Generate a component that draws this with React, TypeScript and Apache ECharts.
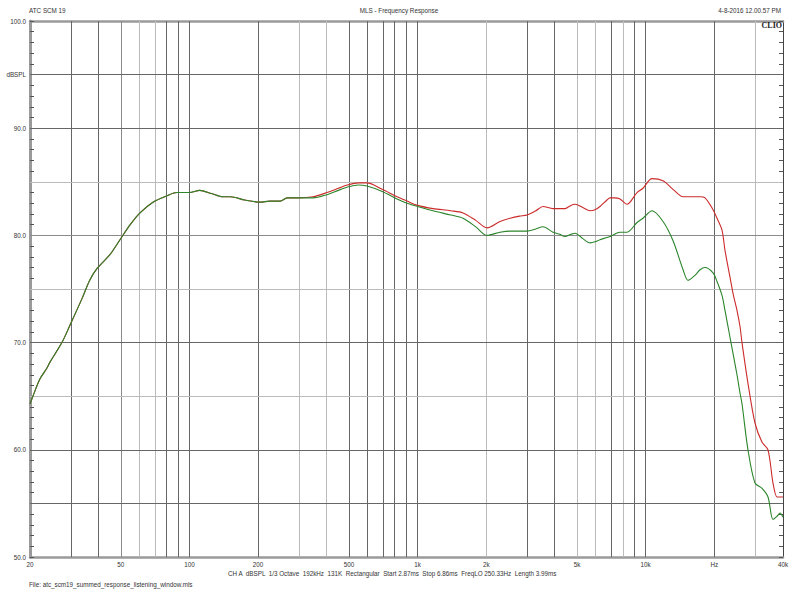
import React, { useEffect, useRef } from "react";
import * as echarts from "echarts";

// ---- data ----
const freqs = [
  20, 20.6, 22.1, 23.7, 24.5, 27.6, 29.9, 33.8, 36.5, 39.3, 44.8, 49.6, 55, 60.7, 69.2, 79.7, 88.2, 100, 111, 125, 140,
  151, 175, 204, 225, 250, 268, 300, 348, 401, 450, 491, 550, 600, 700, 813, 900, 1000, 1169, 1400, 1582, 1800, 2016,
  2300, 2544, 2800, 3019, 3300, 3549, 3926, 4200, 4431, 4700, 4901, 5300, 5704, 6000, 6305, 6767, 6976, 7300, 7720,
  8285, 9166, 9735, 10665, 11918, 13184, 14587, 15341, 16500, 17318, 18213, 19738, 20551, 21614, 22273, 23427, 24149,
  25140, 25916, 26443, 28090, 30150, 32370, 34380, 36160, 37650, 38830, 40000,
];
const redDb = [
  64.3, 65.0, 66.6, 67.6, 68.2, 70.0, 71.6, 74.1, 75.8, 76.9, 78.2, 79.6, 81.0, 82.1, 83.1, 83.7, 84.0, 84.0, 84.2, 83.9,
  83.6, 83.6, 83.3, 83.1, 83.2, 83.2, 83.5, 83.5, 83.6, 84.0, 84.4, 84.7, 84.9, 84.9, 84.3, 83.6, 83.2, 82.8, 82.5, 82.3,
  82.1, 81.4, 80.7, 81.3, 81.6, 81.8, 81.9, 82.3, 82.7, 82.5, 82.5, 82.5, 82.8, 82.9, 82.6, 82.3, 82.4, 82.7, 83.3, 83.5,
  83.5, 83.4, 82.9, 84.0, 84.4, 85.3, 85.1, 84.3, 83.6, 83.6, 83.6, 83.6, 83.5, 82.4, 81.6, 80.5, 78.6, 76.1, 74.6, 73.0,
  71.5, 70.0, 66.2, 62.5, 60.7, 60.0, 56.9, 55.6, 55.6, 55.6,
];
const greenDb = [
  64.3, 65.0, 66.6, 67.6, 68.2, 70.0, 71.6, 74.1, 75.8, 76.9, 78.2, 79.6, 81.0, 82.1, 83.1, 83.7, 84.0, 84.0, 84.2, 83.9,
  83.6, 83.6, 83.3, 83.1, 83.2, 83.2, 83.5, 83.5, 83.5, 83.8, 84.2, 84.5, 84.7, 84.6, 84.1, 83.4, 83.0, 82.7, 82.3, 81.9,
  81.6, 80.8, 80.0, 80.3, 80.4, 80.4, 80.4, 80.6, 80.8, 80.3, 80.1, 79.9, 80.1, 80.2, 79.7, 79.3, 79.4, 79.6, 79.8, 79.9,
  80.1, 80.3, 80.3, 81.2, 81.6, 82.3, 81.3, 79.5, 76.8, 75.8, 76.3, 76.8, 77.0, 76.5, 75.7, 74.4, 73.0, 70.5, 69.0, 67.0,
  65.3, 64.3, 60.0, 56.9, 56.4, 55.6, 53.5, 53.8, 54.1, 53.7,
];
const xTickFreqs = [20, 50, 100, 200, 500, 1000, 2000, 5000, 10000, 20000, 40000];
const xTickLabels = ["20", "50", "100", "200", "500", "1k", "2k", "5k", "10k", "Hz", "40k"];
const gridFreqs = [30, 40, 50, 60, 70, 80, 90, 100, 200, 300, 400, 500, 600, 700, 800, 900, 1000, 2000, 3000, 4000, 5000, 6000, 7000, 8000, 9000, 10000, 20000, 30000];
const gridLevels = [55, 60, 65, 70, 75, 80, 85, 90, 95];
const xMin = 20;
const xMax = 40000;
const yMin = 50;
const yMax = 100;

// ---- styles ----
const gridFreqShade = ["d", "d", "m", "l", "l", "d", "d", "d", "d", "l", "l", "d", "d", "d", "d", "d", "d", "l", "d", "d", "l", "l", "d", "l", "d", "d", "d", "l"];
const gridLevelShade = ["d", "d", "l", "d", "l", "m", "l", "d", "d"];
const shadeColor: Record<string, string> = { d: "#666666", m: "#8a8a8a", l: "#bbbbbb" };

const FONT = "Liberation Sans, Arial, sans-serif";
const lg = (f: number) => Math.log10(f);

export default function App() {
  const ref = useRef<HTMLDivElement>(null);
  useEffect(() => {
    if (!ref.current) return;
    const chart = echarts.init(ref.current, null, { renderer: "svg" });
    const txt = { fontFamily: FONT, fontSize: 6.3, color: "#333" };
    const labelFor = (v: number) => {
      let best = 0;
      let bd = Infinity;
      xTickFreqs.forEach((f, i) => {
        const d = Math.abs(lg(f) - v);
        if (d < bd) {
          bd = d;
          best = i;
        }
      });
      return xTickLabels[best];
    };
    const option: any = {
      animation: false,
      backgroundColor: "#fff",
      grid: { left: 30, right: 15, top: 21, bottom: 42, containLabel: false },
      title: [
        { text: "ATC SCM 19", left: 29, top: 7, padding: 0, textStyle: { ...txt, fontWeight: "normal" } },
        { text: "MLS - Frequency Response", left: "center", top: 7, padding: 0, textStyle: { ...txt, fontWeight: "normal" } },
        { text: "4-8-2016 12.00.57 PM", right: 17, top: 7, padding: 0, textStyle: { ...txt, fontWeight: "normal" } },
      ],
      xAxis: [
        {
          type: "value",
          position: "bottom",
          min: lg(xMin),
          max: lg(xMax),
          axisLine: { show: true, onZero: false, lineStyle: { color: "#9a9a9a", width: 2.5 } },
          axisTick: { show: false },
          splitLine: { show: false },
          axisLabel: {
            ...txt,
            margin: 4,
            customValues: xTickFreqs.map(lg),
            formatter: (v: number) => labelFor(v),
            hideOverlap: false,
            showMinLabel: true,
            showMaxLabel: true,
          },
        },
        {
          type: "value",
          position: "top",
          min: lg(xMin),
          max: lg(xMax),
          axisLine: { show: true, onZero: false, lineStyle: { color: "#9a9a9a", width: 2.5 } },
          axisTick: { show: false },
          splitLine: { show: false },
          axisLabel: { show: false },
        },
      ],
      yAxis: [
        {
          type: "value",
          position: "left",
          min: yMin,
          max: yMax,
          interval: 5,
          axisLine: { show: true, onZero: false, lineStyle: { color: "#9a9a9a", width: 3 } },
          axisTick: { show: true, inside: true, length: 4, lineStyle: { color: "#555" } },
          minorTick: { show: true, splitNumber: 5, length: 4, lineStyle: { color: "#555" } },
          splitLine: { show: false },
          axisLabel: {
            ...txt,
            margin: 4,
            formatter: (v: number) => (v === 95 ? "dBSPL" : v % 10 === 0 ? v.toFixed(1) : ""),
          },
        },
        {
          type: "value",
          position: "right",
          min: yMin,
          max: yMax,
          interval: 5,
          axisLine: { show: true, onZero: false, lineStyle: { color: "#444", width: 1 } },
          axisTick: { show: true, inside: true, length: 4, lineStyle: { color: "#555" } },
          minorTick: { show: true, splitNumber: 5, length: 4, lineStyle: { color: "#555" } },
          splitLine: { show: false },
          axisLabel: { show: false },
        },
      ],
      series: [
        {
          type: "line",
          name: "grid",
          data: [[lg(xMin), yMin]],
          showSymbol: false,
          symbolSize: 0,
          lineStyle: { opacity: 0 },
          silent: true,
          z: 1,
          markLine: {
            silent: true,
            symbol: ["none", "none"],
            label: { show: false },
            z: 1,
            data: [
              ...gridFreqs.map((f, i) => ({
                xAxis: lg(f),
                lineStyle: { color: shadeColor[gridFreqShade[i]], width: 1, type: "solid" },
              })),
              ...gridLevels.map((v, i) => ({
                yAxis: v,
                lineStyle: { color: shadeColor[gridLevelShade[i]], width: 1, type: "solid" },
              })),
            ],
          },
        },
        {
          type: "line",
          name: "red",
          data: freqs.map((f, i) => [lg(f), redDb[i]]),
          showSymbol: false,
          smooth: 0.3,
          lineStyle: { color: "#cc2b2b", width: 1.1 },
          z: 3,
        },
        {
          type: "line",
          name: "green",
          data: freqs.map((f, i) => [lg(f), greenDb[i]]),
          showSymbol: false,
          smooth: 0.3,
          lineStyle: { color: "#2b852b", width: 1.1 },
          z: 4,
        },
      ],
      graphic: [
        {
          type: "text",
          right: 16,
          top: 21,
          style: { text: "CLIO", font: "bold 8px 'Liberation Serif', serif", fill: "#222" },
          z: 10,
        },
        {
          type: "text",
          left: 228,
          top: 570,
          style: {
            text: "CH A  dBSPL  1/3 Octave  192kHz  131K  Rectangular  Start 2.87ms  Stop 6.86ms  FreqLO 250.33Hz  Length 3.99ms",
            font: "6.3px 'Liberation Sans', Arial, sans-serif",
            fill: "#333",
          },
        },
        {
          type: "text",
          left: 29,
          top: 581,
          style: {
            text: "File: atc_scm19_summed_response_listening_window.mls",
            font: "6.3px 'Liberation Sans', Arial, sans-serif",
            fill: "#333",
          },
        },
      ],
    };
    chart.setOption(option);
    return () => chart.dispose();
  }, []);
  return (
    <div
      ref={ref}
      style={{ position: "fixed", left: 0, top: 0, width: 798, height: 599, background: "#fff" }}
    />
  );
}
